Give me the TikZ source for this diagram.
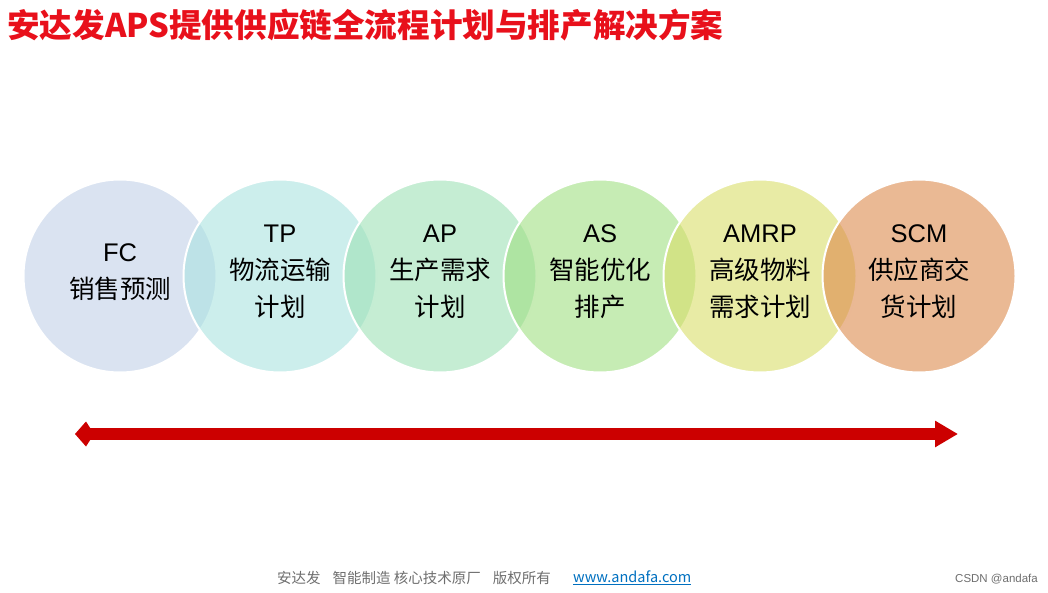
\documentclass[tikz,border=0pt]{standalone}
\usepackage{fontspec}
\setmainfont{Liberation Sans}
\newfontfamily\cjk{Noto Sans CJK SC}
\usetikzlibrary{arrows.meta}

\definecolor{fccol}{RGB}{193,208,232}
\definecolor{tpcol}{RGB}{170,227,224}
\definecolor{apcol}{RGB}{158,225,182}
\definecolor{ascol}{RGB}{160,223,130}
\definecolor{amrpcol}{RGB}{217,222,105}
\definecolor{scmcol}{RGB}{220,138,77}
\definecolor{titlered}{RGB}{232,16,27}
\definecolor{barred}{RGB}{204,0,0}
\definecolor{footgray}{RGB}{110,110,110}
\definecolor{linkblue}{RGB}{0,112,192}

\tikzset{
  stage/.style={circle, minimum size=193pt, inner sep=0pt, draw=white, line width=2pt, fill opacity=0.6, draw opacity=1},
  stagetext/.style={align=center, font=\fontsize{25.5}{37}\selectfont, text=black},
}

\begin{document}
\begin{tikzpicture}[x=1pt,y=-1pt]
				\useasboundingbox (0,0) rectangle (1048,593);

				% title
				\node[anchor=west, inner sep=0pt, text=titlered, font=\cjk\bfseries\fontsize{32.6}{32.6}\selectfont] (title) at (7,25) {安达发APS提供供应链全流程计划与排产解决方案};

				% stages
				\foreach \name/\col/\x in {fc/fccol/120, tp/tpcol/280, ap/apcol/440, as/ascol/600, amrp/amrpcol/760, scm/scmcol/919}{
						\node[stage, fill=\col] (\name) at (\x,276) {};
					}

				\node[stagetext] (fc-t) at ([yshift=4pt]fc.center) {FC\\{\cjk 销售预测}};
				\node[stagetext] (tp-t) at ([yshift=4pt]tp.center) {TP\\{\cjk 物流运输}\\{\cjk 计划}};
				\node[stagetext] (ap-t) at ([yshift=4pt]ap.center) {AP\\{\cjk 生产需求}\\{\cjk 计划}};
				\node[stagetext] (as-t) at ([yshift=4pt]as.center) {AS\\{\cjk 智能优化}\\{\cjk 排产}};
				\node[stagetext] (amrp-t) at ([yshift=4pt]amrp.center) {AMRP\\{\cjk 高级物料}\\{\cjk 需求计划}};
				\node[stagetext] (scm-t) at ([yshift=4pt]scm.center) {SCM\\{\cjk 供应商交}\\{\cjk 货计划}};

				% timeline arrow
				\coordinate (barL) at (75,434);
				\coordinate (barR) at (958,434);
				\draw[barred, line width=12pt, {Kite[length=19pt,width=25pt,inset=8pt]}-{Triangle[length=23pt,width=25pt]}] (barL) -- (barR);

				% footer
				\node[anchor=west, inner sep=0pt, text=footgray, font=\cjk\fontsize{14.5}{14.5}\selectfont] (foot) at (277,578) {安达发\hspace{12pt}智能制造 核心技术原厂\hspace{12pt}版权所有};
				\node[anchor=west, inner sep=0pt, text=linkblue, font=\cjk\fontsize{14.5}{14.5}\selectfont] (link) at (573,578) {\underline{www.andafa.com}};
				\node[anchor=west, inner sep=0pt, text=footgray, font=\fontsize{11.5}{11.5}\selectfont] (csdn) at (955,579) {CSDN @andafa};
			\end{tikzpicture}
\end{document}
